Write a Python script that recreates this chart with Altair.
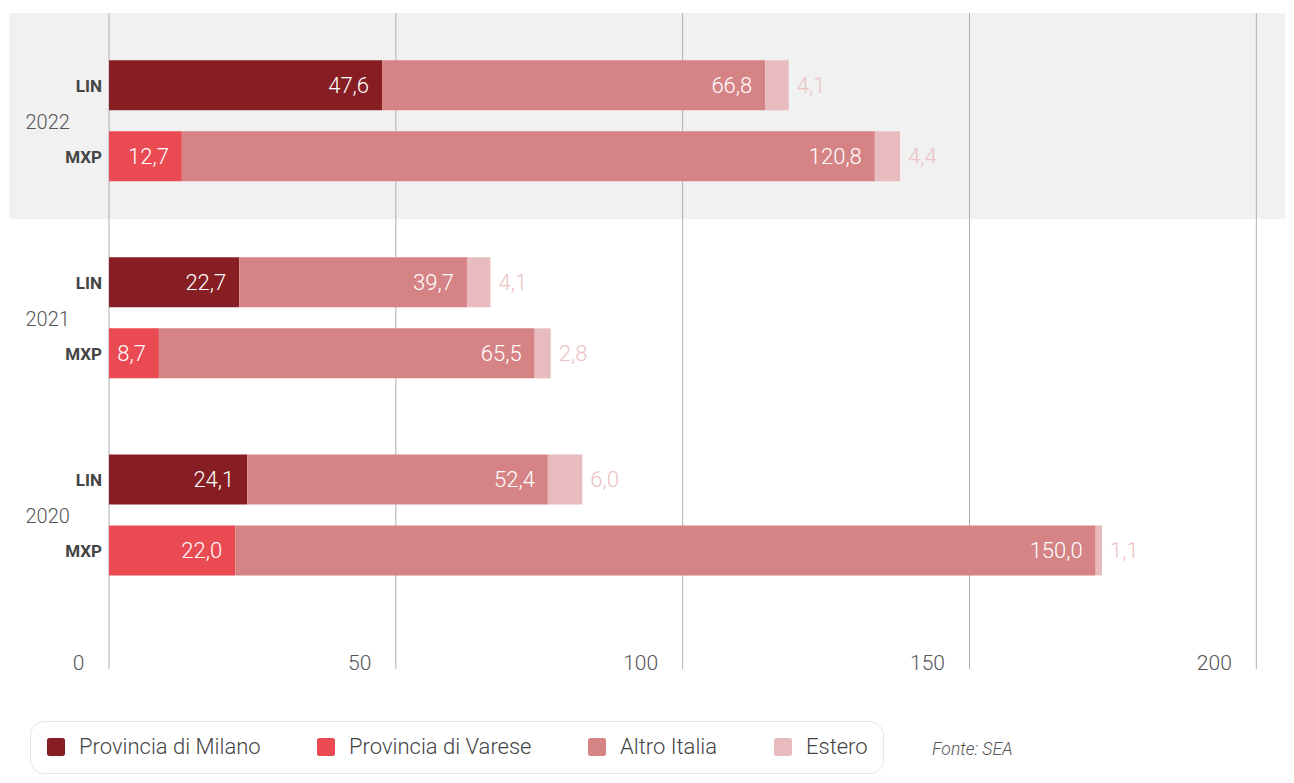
import altair as alt
import pandas as pd

# ---- data ----
years = ["2022", "2021", "2020"]
airports = ["LIN", "MXP"]
categories = ["Provincia di Milano", "Provincia di Varese", "Altro Italia", "Estero"]
colors = ["#861E23", "#EA4B53", "#D68385", "#E8BCBE"]

lin_milano = [47.6, 22.7, 24.1]
lin_altro = [66.8, 39.7, 52.4]
lin_estero = [4.1, 4.1, 6.0]
mxp_varese = [12.7, 8.7, 22.0]
mxp_altro = [120.8, 65.5, 150.0]
mxp_estero = [4.4, 2.8, 1.1]

x_ticks = [0, 50, 100, 150, 200]
source_note = "Fonte: SEA"

# ---- build table ----
rows = []
for i, y in enumerate(years):
    for cat, val in [("Provincia di Milano", lin_milano[i]), ("Altro Italia", lin_altro[i]), ("Estero", lin_estero[i])]:
        rows.append({"year": y, "airport": "LIN", "category": cat, "ord": categories.index(cat), "value": val})
    for cat, val in [("Provincia di Varese", mxp_varese[i]), ("Altro Italia", mxp_altro[i]), ("Estero", mxp_estero[i])]:
        rows.append({"year": y, "airport": "MXP", "category": cat, "ord": categories.index(cat), "value": val})
df = pd.DataFrame(rows)
labels_df = pd.DataFrame([{"year": y, "airport": a} for y in years for a in airports])
grid_df = pd.DataFrame({"t": x_ticks})
note_df = pd.DataFrame({"t": [source_note]})
band_df = pd.DataFrame({"year": [years[0]]})

FONT = "Roboto"

y_scale = alt.Scale(domain=years, paddingInner=0, paddingOuter=0.164, align=0.142)
yoff_scale = alt.Scale(domain=airports, paddingInner=0.296, paddingOuter=0.536)
x_scale = alt.Scale(domain=[0, 205], nice=False, zero=True)

Y = alt.Y("year:N", scale=y_scale, sort=years,
          axis=alt.Axis(title=None, ticks=False, domain=False, labelAlign="left",
                        labelPadding=84, labelFontSize=20, labelFont=FONT,
                        labelFontWeight=300, labelColor="#555555", labelOffset=2,
                        zindex=2))
YO = alt.YOffset("airport:N", scale=yoff_scale, sort=airports)

# gray band behind 2022
band = alt.Chart(band_df).mark_rect(color="#F0F1F0").encode(
    x=alt.value(-100), x2=alt.value("width"),
    y=alt.value(0),
    y2=alt.value(alt.expr("scale('y', '2022') + bandwidth('y')")),
)

grid = alt.Chart(grid_df).mark_rule(color="#B0B0B0", strokeWidth=1).encode(
    x=alt.X("t:Q", scale=x_scale),
    y=alt.value(0), y2=alt.value("height"),
)

rounded_sq = ("M -0.75 -1 L 0.75 -1 A 0.25 0.25 0 0 1 1 -0.75 L 1 0.75 "
              "A 0.25 0.25 0 0 1 0.75 1 L -0.75 1 A 0.25 0.25 0 0 1 -1 0.75 "
              "L -1 -0.75 A 0.25 0.25 0 0 1 -0.75 -1 Z")

base = alt.Chart(df).transform_window(
    end="sum(value)", groupby=["year", "airport"], sort=[alt.SortField("ord")], frame=[None, 0]
).transform_calculate(
    label="replace(format(datum.value, '.1f'), '.', ',')"
)

bars = base.mark_bar().encode(
    x=alt.X("value:Q", stack="zero", scale=x_scale,
            axis=alt.Axis(values=x_ticks, title=None, grid=False, domain=False, ticks=False,
                          tickSize=0, labelAlign="right", labelBaseline="alphabetic",
                          labelOffset=-25, labelPadding=0, labelFontSize=21, labelFont=FONT,
                          labelFontWeight=300, labelColor="#555555")),
    y=Y, yOffset=YO,
    color=alt.Color("category:N", scale=alt.Scale(domain=categories, range=colors),
                    legend=alt.Legend(title=None, orient="none", legendX=-79, legendY=708,
                                      direction="horizontal", columns=4,
                                      symbolType=rounded_sq, symbolSize=324, symbolStrokeWidth=0,
                                      symbolOpacity=1, labelLimit=0,
                                      labelFontSize=22, labelFont=FONT, labelFontWeight=300,
                                      labelColor="#444444", labelOffset=12, columnPadding=54,
                                      padding=15, fillColor="white", strokeColor="#E6E6E6",
                                      cornerRadius=14)),
    order=alt.Order("ord:Q"),
)

inner_text = base.transform_filter("datum.category != 'Estero'").mark_text(
    align="right", baseline="middle", dx=-13, dy=1, color="white",
    fontSize=22, font=FONT, fontWeight=300,
).encode(x=alt.X("end:Q", scale=x_scale), y=alt.Y("year:N", sort=years), yOffset=YO, text="label:N")

outer_text = base.transform_filter("datum.category == 'Estero'").mark_text(
    align="left", baseline="middle", dx=8, dy=1, color="#EBC3C4",
    fontSize=22, font=FONT, fontWeight=300,
).encode(x=alt.X("end:Q", scale=x_scale), y=alt.Y("year:N", sort=years), yOffset=YO, text="label:N")

airport_text = alt.Chart(labels_df).mark_text(
    align="right", baseline="middle", dy=2, color="#444444",
    fontSize=17, font=FONT, fontWeight="bold",
).encode(x=alt.value(-7), y=alt.Y("year:N", sort=years), yOffset=YO, text="airport:N")

note = alt.Chart(note_df).mark_text(
    align="left", baseline="middle", fontSize=17.5, font=FONT, fontStyle="italic",
    fontWeight=300, color="#555555",
).encode(x=alt.value(823), y=alt.value(737), text="t:N")

chart = alt.layer(band, grid, bars, inner_text, outer_text, airport_text, note).properties(
    width=1176, height=656,
    padding={"left": 1, "top": 4, "right": 0, "bottom": 0},
).configure(font=FONT).configure_view(strokeWidth=0, stroke="transparent").configure_axis(domain=False, ticks=False)

chart.save("out.html", embed_options={"renderer": "svg", "actions": False})
